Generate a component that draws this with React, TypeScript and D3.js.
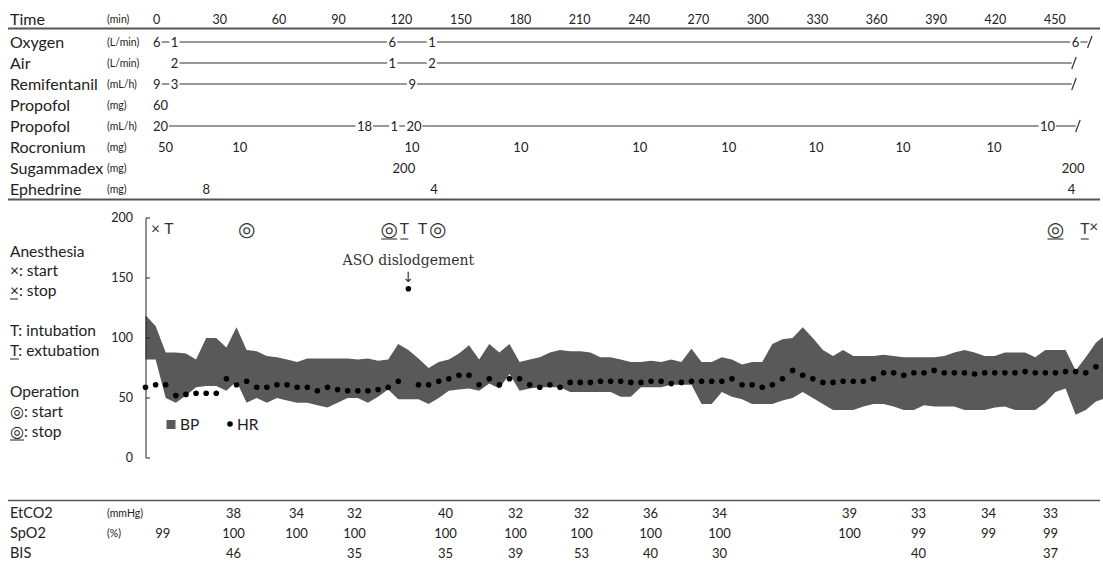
import { useEffect } from "react";
import * as d3 from "d3";

const W = 1103;
const H = 563;

// ---- top table ----
const TIME_TICKS = [0, 30, 60, 90, 120, 150, 180, 210, 240, 270, 300, 330, 360, 390, 420, 450];
const ROW_NAMES = ["Oxygen", "Air", "Remifentanil", "Propofol", "Propofol", "Rocronium", "Sugammadex", "Ephedrine"];
const ROW_UNITS = ["(L/min)", "(L/min)", "(mL/h)", "(mg)", "(mL/h)", "(mg)", "(mg)", "(mg)"];

type Entry = [number, string];
const OXYGEN: Entry[] = [[0, "6"], [9, "1"], [119, "6"], [139, "1"], [464, "6"]];
const AIR: Entry[] = [[9, "2"], [119, "1"], [139, "2"]];
const REMIFENTANIL: Entry[] = [[0, "9"], [9, "3"], [129, "9"]];
const PROPOFOL_MG: Entry[] = [[0, "60"]];
const PROPOFOL_ML: Entry[] = [[0, "20"], [103, "18"], [120, "1"], [128, "20"], [448, "10"]];
const ROCRONIUM: Entry[] = [[2.5, "50"], [40, "10"], [127, "10"], [182, "10"], [242, "10"], [287, "10"], [331, "10"], [375, "10"], [421, "10"]];
const SUGAMMADEX: Entry[] = [[121, "200"], [459, "200"]];
const EPHEDRINE: Entry[] = [[25, "8"], [140, "4"], [462, "4"]];

const ROW_DATA = [OXYGEN, AIR, REMIFENTANIL, PROPOFOL_MG, PROPOFOL_ML, ROCRONIUM, SUGAMMADEX, EPHEDRINE];
// continuous infusions: joined by lines, ending with a stop mark
const ROW_STOP: (number | null)[] = [473, 465, 465, null, 467, null, null, null];

// ---- vitals, every 5 min ----
const HR = [
  59, 61, 61, 52, 53, 54, 54, 54, 66, 61, 64, 59, 59, 61, 61, 59, 59, 56, 59, 57,
  56, 56, 56, 57, 59, 64, 141, 61, 61, 64, 66, 69, 69, 61, 66, 61, 66, 66, 61, 59,
  61, 59, 63, 63, 63, 64, 64, 64, 63, 63, 64, 64, 62, 63, 64, 64, 64, 64, 66, 61,
  61, 59, 61, 66, 73, 69, 66, 63, 63, 64, 64, 64, 66, 71, 71, 69, 71, 71, 73, 71,
  71, 71, 70, 71, 71, 71, 71, 72, 71, 71, 71, 72, 72, 71, 76, 81,
];
const BP_HIGH = [
  119, 110, 88, 88, 87, 82, 100, 100, 92, 109, 90, 89, 85, 84, 82, 80, 83, 83, 83, 83,
  83, 82, 83, 81, 82, 95, 90, 83, 75, 80, 82, 87, 94, 82, 95, 88, 95, 80, 82, 84,
  88, 90, 89, 89, 88, 84, 84, 82, 80, 80, 81, 80, 82, 80, 91, 80, 80, 84, 82, 78,
  80, 80, 95, 99, 100, 109, 100, 90, 85, 90, 85, 85, 85, 86, 85, 84, 84, 84, 84, 85,
  88, 90, 88, 85, 85, 88, 88, 88, 84, 90, 90, 90, 73, 84, 96, 103,
];
const BP_LOW = [
  82, 82, 50, 46, 52, 59, 60, 60, 56, 64, 46, 50, 46, 50, 48, 46, 46, 44, 42, 46,
  50, 50, 46, 51, 57, 49, 49, 49, 45, 50, 56, 57, 58, 56, 62, 58, 70, 56, 58, 59,
  59, 59, 55, 55, 55, 55, 55, 51, 51, 59, 59, 59, 61, 61, 61, 45, 45, 55, 51, 49,
  45, 45, 45, 48, 50, 55, 50, 45, 40, 40, 40, 43, 45, 45, 43, 40, 40, 44, 43, 43,
  43, 40, 40, 40, 42, 43, 40, 40, 40, 46, 55, 58, 36, 40, 47, 50,
];
const STEP = 5;
const Y_TICKS = [0, 50, 100, 150, 200];

// event marks along the top of the chart
const EVENTS = [
  { t: 5, s: "×", u: false }, { t: 11.5, s: "T", u: false }, { t: 50, s: "◎", u: false },
  { t: 120.5, s: "◎", u: true }, { t: 128, s: "T", u: true }, { t: 137, s: "T", u: false },
  { t: 144.5, s: "◎", u: false }, { t: 450, s: "◎", u: true }, { t: 464.5, s: "T", u: true },
  { t: 469, s: "×", u: false },
];
const ASO_T = 130;

// ---- bottom table ----
const BOTTOM_T = [8.6, 43.5, 74.7, 103.4, 148.4, 183, 215.6, 249.8, 283.9, 348.2, 382.3, 416.9, 447.6];
const ETCO2 = [null, 38, 34, 32, 40, 32, 32, 36, 34, 39, 33, 34, 33];
const SPO2 = [99, 100, 100, 100, 100, 100, 100, 100, 100, 100, 99, 99, 99];
const BIS = [null, 46, null, 35, 35, 39, 53, 40, 30, null, 40, null, 37];

const FONT = "Lato, 'Open Sans', sans-serif";
const SYM = "'DejaVu Sans', sans-serif";
const INK = "#222";

export default function App() {
  useEffect(() => {
    document.body.style.margin = "0";
  }, []);

  const tx = d3.scaleLinear().domain([0, 450]).range([153, 1044]);
  const x = d3.scaleLinear().domain([0, 475]).range([145.5, 1106]);
  const y = d3.scaleLinear().domain([0, 200]).range([458, 218]);
  const rowY = (i: number) => 42 + i * 21;
  const digitW = 7.2;

  const area = d3
    .area<number>()
    .x((_, i) => x(i * STEP))
    .y0((_, i) => y(BP_LOW[i]))
    .y1((d) => y(d));

  const bottomRows: [string, string, (number | null)[]][] = [
    ["EtCO2", "(mmHg)", ETCO2],
    ["SpO2", "(%)", SPO2],
    ["BIS", "", BIS],
  ];

  return (
    <svg width={W} height={H} viewBox={`0 0 ${W} ${H}`} style={{ display: "block", background: "#fff" }}>
      {/* ---------- top table ---------- */}
      <text x={10} y={25} fontFamily={FONT} fontSize={16} fill={INK}>Time</text>
      <text x={107} y={23} fontFamily={FONT} fontSize={10.5} fill={INK}>(min)</text>
      {TIME_TICKS.map((t) => (
        <text key={t} x={tx(t)} y={24} fontFamily={FONT} fontSize={12.5} fill={INK}>{t}</text>
      ))}
      <line x1={8} x2={1100} y1={28.5} y2={28.5} stroke="#555" strokeWidth={1.8} />

      {ROW_NAMES.map((name, i) => {
        const cy = rowY(i);
        const items = ROW_DATA[i];
        const stop = ROW_STOP[i];
        const segs: { x1: number; x2: number }[] = [];
        if (stop !== null) {
          items.forEach(([t, s], k) => {
            const x1 = tx(t) + s.length * digitW + 1.5;
            const x2 = k < items.length - 1 ? tx(items[k + 1][0]) - 1.5 : tx(stop) - 2;
            segs.push({ x1, x2 });
          });
        }
        return (
          <g key={i}>
            <text x={10} y={cy + 5.5} fontFamily={FONT} fontSize={16} fill={INK}>{name}</text>
            <text x={107} y={cy + 4} fontFamily={FONT} fontSize={10.5} fill={INK}>{ROW_UNITS[i]}</text>
            {items.map(([t, s], k) => (
              <text key={k} x={tx(t)} y={cy + 4.5} fontFamily={FONT} fontSize={13} fill={INK}>{s}</text>
            ))}
            {segs.map((sg, k) => (
              <line key={k} x1={sg.x1} x2={sg.x2} y1={cy} y2={cy} stroke="#333" strokeWidth={1} />
            ))}
            {stop !== null && (
              <line x1={tx(stop) - 2} x2={tx(stop) + 2.5} y1={cy + 6} y2={cy - 6} stroke="#333" strokeWidth={1.2} />
            )}
          </g>
        );
      })}
      <line x1={8} x2={1100} y1={199.5} y2={199.5} stroke="#555" strokeWidth={1.8} />

      {/* ---------- left legend ---------- */}
      <g fontFamily={FONT} fontSize={15.5} fill={INK}>
        <text x={10} y={257}>Anesthesia</text>
        <text x={10} y={276}>×: start</text>
        <text x={10} y={296}>×: stop</text>
        <line x1={10} x2={18} y1={299} y2={299} stroke={INK} strokeWidth={1} />
        <text x={10} y={336}>T: intubation</text>
        <text x={10} y={356}>T: extubation</text>
        <line x1={10} x2={19} y1={359} y2={359} stroke={INK} strokeWidth={1} />
        <text x={10} y={397}>Operation</text>
        <text x={10} y={417}><tspan fontFamily={SYM} fontSize={16}>◎</tspan>: start</text>
        <text x={10} y={437}><tspan fontFamily={SYM} fontSize={16}>◎</tspan>: stop</text>
        <line x1={10} x2={24} y1={440} y2={440} stroke={INK} strokeWidth={1} />
      </g>

      {/* ---------- chart ---------- */}
      <path d={area(BP_HIGH) ?? ""} fill="#595959" />
      {HR.map((v, i) => (
        <circle key={i} cx={x(i * STEP)} cy={y(v)} r={2.8} fill="#000" />
      ))}

      <line x1={146} x2={146} y1={y(200)} y2={y(0)} stroke="#222" strokeWidth={1} />
      {Y_TICKS.map((v) => (
        <g key={v}>
          <line x1={146} x2={150} y1={y(v)} y2={y(v)} stroke="#222" strokeWidth={1} />
          <text x={133} y={y(v) + 4} textAnchor="end" fontFamily={FONT} fontSize={12.5} fill={INK}>{v}</text>
        </g>
      ))}

      {EVENTS.map((e, i) => {
        const cx = x(e.t);
        const sym = e.s === "◎";
        const w = sym ? 16 : 8;
        return (
          <g key={i}>
            <text
              x={cx}
              y={e.s === "×" && i > 0 ? 232 : sym ? 235.5 : 234}
              textAnchor="middle"
              fontFamily={sym ? SYM : FONT}
              fontSize={sym ? 20 : 15.5}
              fill="#333"
            >
              {e.s}
            </text>
            {e.u && <line x1={cx - w / 2} x2={cx + w / 2} y1={239} y2={239} stroke="#333" strokeWidth={1.1} />}
          </g>
        );
      })}

      <text x={x(ASO_T)} y={265} textAnchor="middle" fontFamily="'DejaVu Serif', serif" fontSize={14} fill="#333">
        ASO dislodgement
      </text>
      <text x={x(ASO_T)} y={282} textAnchor="middle" fontFamily={SYM} fontSize={14} fill="#333">↓</text>

      {/* chart legend */}
      <rect x={166.5} y={420} width={9} height={9} fill="#595959" />
      <text x={180} y={430} fontFamily={FONT} fontSize={15.5} fill={INK}>BP</text>
      <circle cx={230} cy={424} r={2.8} fill="#000" />
      <text x={237} y={430} fontFamily={FONT} fontSize={15.5} fill={INK}>HR</text>

      {/* ---------- bottom table ---------- */}
      <line x1={8} x2={1100} y1={500.5} y2={500.5} stroke="#555" strokeWidth={1.5} />
      {bottomRows.map(([name, unit, vals], r) => {
        const cy = 513 + r * 20;
        return (
          <g key={name}>
            <text x={10} y={cy + 5} fontFamily={FONT} fontSize={14.5} fill={INK}>{name}</text>
            <text x={107} y={cy + 4} fontFamily={FONT} fontSize={10.5} fill={INK}>{unit}</text>
            {vals.map((v, k) =>
              v === null ? null : (
                <text key={k} x={x(BOTTOM_T[k])} y={cy + 4.5} textAnchor="middle" fontFamily={FONT} fontSize={13} fill={INK}>
                  {v}
                </text>
              )
            )}
          </g>
        );
      })}
    </svg>
  );
}
